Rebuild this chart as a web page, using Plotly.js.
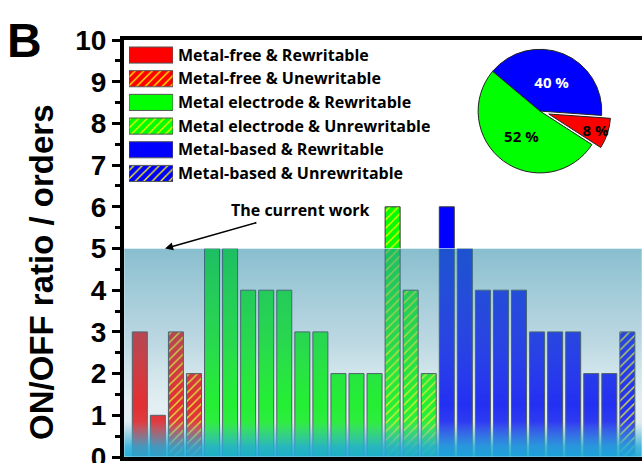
<!DOCTYPE html>
<html>
<head>
<meta charset="utf-8">
<script src="https://cdn.plot.ly/plotly-3.0.1.min.js"></script>
<style>html,body{margin:0;padding:0;background:#fff;}#chart{width:642px;height:463px;}</style>
</head>
<body>
<div id="chart"></div>
<script>
// ---- data ----
const categories = [
  'Metal-free & Rewritable',
  'Metal-free & Unewritable',
  'Metal electrode & Rewritable',
  'Metal electrode & Unrewritable',
  'Metal-based & Rewritable',
  'Metal-based & Unrewritable'
];
const barValues   = [3,1,3,2, 5,5,4,4,4,3,3,2,2,2, 6,4,2, 6,5,4,4,4,3,3,3,2,2, 3];
const barCategory = [0,0,1,1, 2,2,2,2,2,2,2,2,2,2, 3,3,3, 4,4,4,4,4,4,4,4,4,4, 5];
const currentWork = 5;
const yTicks = [0,1,2,3,4,5,6,7,8,9,10];
const pieLabels = ['Metal-based', 'Metal-free', 'Metal electrode'];
const pieValues = [40, 8, 52];
const pieText = ['40 %', '8 %', '52 %'];

// ---- styles ----
const catColors = ['#ff0000','#ff0000','#00ff00','#00ff00','#0000ff','#0000ff'];
const catHatched = [false,true,false,true,false,true];
const hatchColor = '#ffff00';
const FONT = 'Open Sans, Noto Sans, sans-serif';
const ARIAL = 'Liberation Sans, Arial, sans-serif';
const xRange = [-0.875, 27.81];

function patternFor(ci) {
  return catHatched[ci]
    ? {shape: '/', fgcolor: hatchColor, bgcolor: catColors[ci], size: 6, solidity: 0.22, fillmode: 'replace'}
    : {shape: ''};
}

const traces = [];
categories.forEach((name, ci) => {
  const xs = [], ys = [];
  barValues.forEach((v, i) => { if (barCategory[i] === ci) { xs.push(i); ys.push(v); } });
  traces.push({
    type: 'bar', x: xs, y: ys, name: name, showlegend: false, width: 0.83,
    marker: {color: catColors[ci], line: {color: '#3a3a3a', width: 1}, pattern: patternFor(ci)},
    hoverinfo: 'x+y'
  });
});

// shaded band marking the current work, drawn over the bars
traces.push({
  type: 'scatter', mode: 'lines', x: [xRange[0], xRange[1], xRange[1], xRange[0], xRange[0]],
  y: [0, 0, currentWork, currentWork, 0], fill: 'toself', line: {width: 0.8, color: 'rgba(230,245,250,0.8)'},
  fillgradient: {type: 'vertical', start: 0, stop: currentWork, colorscale: [
    [0, 'rgba(30,170,215,0.95)'],
    [0.05, 'rgba(45,172,215,0.88)'],
    [0.11, 'rgba(85,180,212,0.6)'],
    [0.17, 'rgba(150,195,210,0.3)'],
    [0.25, 'rgba(140,190,205,0.25)'],
    [0.55, 'rgba(95,162,186,0.42)'],
    [1, 'rgba(50,143,171,0.58)']
  ]},
  hoverinfo: 'skip', showlegend: false
});

// legend drawn as swatch bars in an inset
categories.forEach((name, ci) => {
  traces.push({
    type: 'bar', orientation: 'h', x: [1], y: [name],
    xaxis: 'x2', yaxis: 'y2', width: 0.68, showlegend: false, hoverinfo: 'skip',
    marker: {color: catColors[ci], line: {color: '#555', width: 1}, pattern: patternFor(ci)}
  });
});

// pie inset
traces.push({
  type: 'pie', labels: pieLabels, values: pieValues, text: pieText, textinfo: 'text',
  textposition: 'inside', sort: false, direction: 'clockwise', rotation: -50, pull: [0, 0.15, 0],
  marker: {colors: ['#0000ff','#ff0000','#00ff00'], line: {color: '#222', width: 1}},
  textfont: {family: FONT, size: 15, weight: 'bold', color: ['#ffffff','#000000','#000000']},
  insidetextorientation: 'horizontal',
  domain: {x: [0.664, 0.942], y: [0.659, 1.005]}, showlegend: false, hoverinfo: 'label+percent'
});

const layout = {
  width: 642, height: 463,
  margin: {l: 124, r: 0, t: 40, b: 6},
  paper_bgcolor: '#ffffff', plot_bgcolor: '#ffffff',
  barmode: 'overlay', showlegend: false,
  uniformtext: {mode: 'show', minsize: 15},
  xaxis: {range: xRange, showticklabels: false, ticks: '', showgrid: false, zeroline: false,
          showline: true, linecolor: '#000', linewidth: 4, mirror: true, fixedrange: true},
  yaxis: {range: [0, 10], tickvals: yTicks, ticks: 'outside', ticklen: 8, tickwidth: 3, tickcolor: '#000',
          minor: {dtick: 0.5, ticks: 'outside', ticklen: 5, tickwidth: 3, tickcolor: '#000'},
          ticklabeloverflow: 'allow',
          showgrid: false, zeroline: false, showline: true, linecolor: '#000', linewidth: 4,
          tickfont: {family: ARIAL, size: 28, weight: 'bold', color: '#000'}},
  xaxis2: {domain: [0.00965, 0.0946], range: [0, 1], anchor: 'y2', visible: false, fixedrange: true},
  yaxis2: {domain: [0.6516, 0.9923], anchor: 'x2', side: 'right', autorange: 'reversed',
           categoryorder: 'array', categoryarray: categories, ticklabelstandoff: 4,
           showgrid: false, zeroline: false, showline: false, ticks: '',
           tickfont: {family: FONT, size: 16, weight: 'bold', color: '#000'}},
  annotations: [
    {text: 'B', xref: 'paper', yref: 'paper', x: -0.193, y: 0.999, xanchor: 'center', yanchor: 'middle',
     showarrow: false, font: {family: ARIAL, size: 48, weight: 'bold', color: '#000'}},
    {text: 'ON/OFF ratio / orders', xref: 'paper', yref: 'paper', x: -0.158, y: 0.444, textangle: -90,
     xanchor: 'center', yanchor: 'middle',
     showarrow: false, font: {family: ARIAL, size: 33, weight: 'bold', color: '#000'}},
    {text: 'The current work', xref: 'x', yref: 'y', x: 1.4, y: currentWork, axref: 'x', ayref: 'y',
     ax: 8.9, ay: 5.92, showarrow: true, arrowhead: 2, arrowsize: 1, arrowwidth: 1.6, arrowcolor: '#000',
     font: {family: FONT, size: 16, weight: 'bold', color: '#000'}}
  ]
};

Plotly.newPlot('chart', traces, layout, {displayModeBar: false, staticPlot: true});
</script>
</body>
</html>
